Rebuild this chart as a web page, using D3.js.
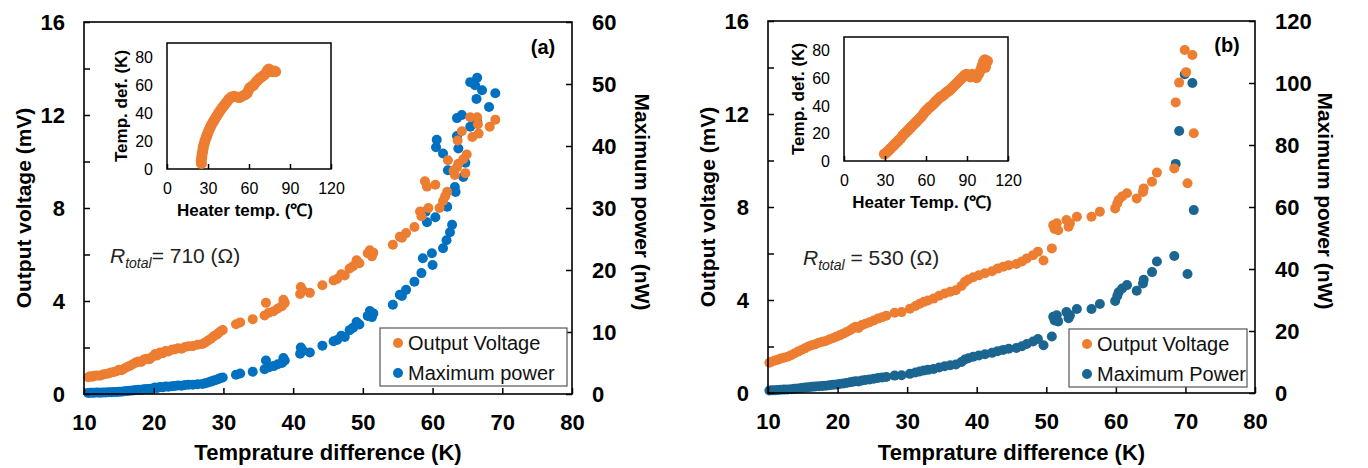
<!DOCTYPE html>
<html>
<head>
<meta charset="utf-8">
<script src="https://cdn.jsdelivr.net/npm/d3@7"></script>
<style>
  body { margin: 0; background: #fff; }
  svg { font-family: Arial, "Liberation Sans", sans-serif; }
</style>
</head>
<body>
<svg id="chart" width="1368" height="468"></svg>
<script>
const svg = d3.select("#chart"),
    width = +svg.attr("width"),
    height = +svg.attr("height");

const orange = "#ED7D31";
const blueA = "#0070C0";
const blueB = "#1B6591";

// tick labels
const xTicks = [10, 20, 30, 40, 50, 60, 70, 80];
const voltTicks = [0, 2, 4, 6, 8, 10, 12, 14, 16];
const powerTicksA = [0, 10, 20, 30, 40, 50, 60];
const powerTicksB = [0, 20, 40, 60, 80, 100, 120];
const insetXTicks = [0, 30, 60, 90, 120];
const insetYTicks = [0, 20, 40, 60, 80];

// panel (a): [temperature difference K, output voltage mV]
const voltA = [[10.6,0.72],[10.9,0.76],[11.2,0.74],[11.5,0.78],[11.9,0.80],[12.3,0.79],[12.7,0.84],[13.1,0.86],[13.5,0.88],[13.9,0.93],[14.3,0.95],[14.7,0.98],[15.0,1.04],[15.4,1.02],[15.8,1.10],[16.2,1.16],[16.6,1.22],[17.0,1.28],[17.4,1.35],[17.8,1.40],[18.2,1.38],[18.6,1.48],[19.0,1.52],[19.4,1.50],[19.8,1.60],[20.2,1.72],[20.5,1.66],[20.9,1.78],[21.3,1.75],[21.7,1.85],[22.1,1.83],[22.6,1.90],[23.0,1.92],[23.5,1.97],[24.0,1.95],[24.5,2.02],[25.0,2.05],[25.6,2.06],[26.3,2.12],[27.0,2.15],[27.4,2.22],[27.8,2.30],[28.2,2.38],[28.6,2.48],[29.0,2.55],[29.3,2.62],[29.6,2.70],[29.9,2.75],
  [31.8,3.00],[32.4,3.08],[34.2,3.22],[35.9,3.38],[36.1,3.92],[36.5,3.50],[37.2,3.56],[37.8,3.68],[38.4,3.78],[38.6,4.05],[38.8,3.92],[41.0,4.30],[41.1,4.60],[41.4,4.45],[42.4,4.35],[44.2,4.68],[45.8,4.88],[46.3,4.95],[46.9,5.15],[47.4,5.10],[48.1,5.40],[48.6,5.50],[49.1,5.75],[49.5,5.62],[50.7,6.05],[51.0,6.18],[51.3,5.92],[51.5,6.08],[54.3,6.42],[55.3,6.76],[55.6,6.72],[56.2,6.92],[57.4,7.18],[58.2,7.85],[58.4,7.65],[58.9,9.15],[59.2,8.92],[59.4,8.00],[60.4,9.00],[61.0,8.00],[61.5,8.30],[61.8,8.50],[62.1,8.70],[62.2,10.05],[63.0,9.60],[63.2,9.42],[63.5,9.75],[63.6,10.90],[63.7,9.90],[64.2,11.30],[64.4,10.10],[64.7,9.50],[64.9,10.30],[65.4,11.90],[65.7,11.05],[66.4,11.90],[66.5,11.60],[66.6,11.20],[68.2,11.50],[69.0,11.80]];

// panel (a): [temperature difference K, maximum power nW]
const powerA = [[10.6,0.18],[10.9,0.20],[11.2,0.19],[11.5,0.21],[11.9,0.23],[12.3,0.22],[12.7,0.25],[13.1,0.26],[13.5,0.27],[13.9,0.30],[14.3,0.32],[14.7,0.34],[15.0,0.38],[15.4,0.37],[15.8,0.43],[16.2,0.47],[16.6,0.52],[17.0,0.58],[17.4,0.64],[17.8,0.69],[18.2,0.67],[18.6,0.77],[19.0,0.81],[19.4,0.79],[19.8,0.90],[20.2,1.04],[20.5,0.97],[20.9,1.12],[21.3,1.08],[21.7,1.20],[22.1,1.18],[22.6,1.27],[23.0,1.30],[23.5,1.37],[24.0,1.34],[24.5,1.44],[25.0,1.48],[25.6,1.49],[26.3,1.58],[27.0,1.63],[27.4,1.73],[27.8,1.86],[28.2,2.00],[28.6,2.16],[29.0,2.29],[29.3,2.42],[29.6,2.57],[29.9,2.66],
  [31.8,3.1],[32.4,3.3],[34.2,3.6],[35.9,4.0],[36.1,5.4],[36.5,4.3],[37.2,4.5],[37.8,4.8],[38.4,5.0],[38.6,5.8],[38.8,5.4],[41.0,6.5],[41.1,7.5],[41.4,7.0],[42.4,6.7],[44.2,7.8],[45.8,8.5],[46.3,8.7],[46.9,9.4],[47.4,9.2],[48.1,10.3],[48.6,10.7],[49.1,11.6],[49.5,11.2],[50.7,12.6],[51.0,13.4],[51.3,12.4],[51.5,13.0],[54.3,14.4],[55.3,16.0],[55.6,15.8],[56.2,16.8],[57.4,18.1],[58.4,19.5],[58.6,21.9],[59.0,29.4],[59.2,27.7],[59.9,22.7],[60.0,20.8],[60.4,28.5],[60.5,39.8],[60.6,41.0],[61.5,23.5],[61.5,38.8],[62.0,24.8],[62.1,30.2],[62.2,36.1],[62.5,26.1],[62.8,27.3],[63.2,33.4],[63.3,32.6],[63.5,41.6],[63.5,44.5],[63.7,39.6],[64.2,45.0],[64.4,35.0],[64.7,37.3],[65.4,43.1],[65.4,50.3],[66.1,49.8],[66.3,47.6],[66.4,51.0],[66.4,44.0],[67.1,49.0],[68.1,46.3],[69.0,48.5]];

// panel (b)
const voltB = [[10.2,1.30],[10.6,1.36],[11.0,1.40],[11.4,1.43],[11.8,1.48],[12.3,1.52],[12.8,1.56],[13.3,1.62],[13.8,1.70],[14.3,1.78],[14.8,1.85],[15.3,1.92],[15.8,2.00],[16.3,2.05],[16.8,2.10],[17.3,2.16],[17.8,2.20],[18.3,2.24],[18.8,2.30],[19.3,2.36],[19.8,2.42],[20.3,2.48],[20.8,2.55],[21.3,2.62],[21.8,2.70],[22.2,2.78],[22.6,2.85],[23.0,2.80],[23.5,2.92],[24.0,2.98],[24.6,3.04],[25.2,3.12],[25.8,3.20],[26.4,3.26],[27.0,3.32],[28.2,3.45],[29.2,3.48],[30.4,3.62],[31.2,3.74],[31.8,3.84],[32.4,3.92],[33.0,3.98],[33.8,4.06],[34.6,4.18],[35.4,4.28],[36.2,4.36],[37.0,4.42],[37.8,4.60],[38.3,4.78],[38.8,4.88],[39.5,4.98],[40.3,5.06],[41.2,5.15],[42.2,5.24],[43.0,5.35],[43.8,5.43],[44.6,5.50],[45.7,5.55],[46.5,5.66],[47.2,5.79],[48.1,5.93],[48.8,6.08],[49.6,5.70],[50.8,6.22],[51.0,7.22],[51.2,7.05],[51.5,7.30],[51.7,7.00],[52.9,7.44],[53.2,7.15],[53.4,7.30],[54.4,7.58],[56.5,7.58],[57.7,7.80],[59.9,7.94],[60.2,8.15],[60.4,8.30],[60.9,8.45],[61.6,8.59],[63.0,8.37],[63.9,8.65],[64.0,8.80],[65.2,9.09],[65.9,9.48],[68.4,9.66],[70.3,9.02],[68.6,12.50],[69.1,13.35],[69.9,14.75],[70.1,13.80],[71.0,14.54],[71.2,11.17]];

const powerB = [[10.2,0.80],[10.6,0.87],[11.0,0.92],[11.4,0.97],[11.8,1.03],[12.3,1.09],[12.8,1.15],[13.3,1.24],[13.8,1.36],[14.3,1.49],[14.8,1.62],[15.3,1.74],[15.8,1.89],[16.3,1.98],[16.8,2.08],[17.3,2.20],[17.8,2.28],[18.3,2.37],[18.8,2.50],[19.3,2.63],[19.8,2.76],[20.3,2.90],[20.8,3.07],[21.3,3.24],[21.8,3.44],[22.2,3.65],[22.6,3.83],[23.0,3.70],[23.5,4.02],[24.0,4.19],[24.6,4.36],[25.2,4.59],[25.8,4.83],[26.4,5.01],[27.0,5.20],[28.2,5.61],[29.2,5.71],[30.4,6.18],[31.2,6.60],[31.8,6.95],[32.4,7.25],[33.0,7.47],[33.8,7.78],[34.6,8.24],[35.4,8.64],[36.2,8.97],[37.0,9.21],[37.8,9.98],[38.3,10.78],[38.8,11.23],[39.5,11.70],[40.3,12.08],[41.2,12.50],[42.2,12.95],[43.0,13.50],[43.8,13.90],[44.6,14.30],[45.7,14.50],[46.5,15.10],[47.2,15.80],[48.1,16.60],[48.8,17.40],[49.6,15.40],[50.8,18.20],[51.0,24.60],[51.2,23.40],[51.5,25.10],[51.7,23.10],[52.9,26.10],[53.2,24.10],[53.4,25.10],[54.4,27.10],[56.5,27.10],[57.7,28.70],[59.9,29.70],[60.2,31.30],[60.4,32.50],[60.9,33.70],[61.6,34.80],[63.0,33.00],[63.9,35.30],[64.0,36.50],[65.2,39.00],[65.9,42.40],[68.4,44.20],[70.3,38.40],[68.6,73.90],[69.1,84.50],[69.9,102.80],[71.0,100.00],[71.2,59.00]];

// insets: [heater temp C, temperature difference K]
const insetA = [[25.2,4],[25.0,6],[25.4,8],[25.6,10],[26.0,12],[26.3,14],[26.6,16],[27.2,18],[27.8,20],[28.5,22],[29.2,24],[30.0,26],[30.8,28],[31.8,30],[32.8,32],[34.0,34],[35.2,36],[36.5,38],[37.8,40],[39.2,42],[40.6,44],[42.2,46],[43.8,48],[45.4,50],[47.2,51.5],[49.0,52],[51.0,51.5],[53.0,51],[55.0,52],[57.0,53],[58.5,54],[59.5,56],[60.5,58],[62.0,59],[63.5,60],[65.0,62],[66.5,63.5],[68.0,65],[69.5,66],[71.0,67],[72.5,68.5],[73.5,70.5],[74.5,71.5],[75.5,70.5],[77.0,69.5],[78.5,70],[79.5,69.5]];
const insetB = [[29.5,5],[31,6],[32.5,7.5],[34,9],[35.5,10.5],[37,12],[38.5,13.5],[40,15],[41.5,16.5],[43,18.5],[44.5,20],[46,21.5],[47.5,23],[49,24.5],[50.5,26],[52,27.5],[53.5,29],[55,30.5],[56.5,32],[58,34],[59.5,36],[61,37.5],[62.5,39],[64,40],[65.5,41.5],[67,43],[68.5,44.5],[70,46],[71.5,47],[73,48],[74.5,49.5],[76,50.5],[77.5,51.5],[79,53],[80.5,54.5],[82,56],[83.5,57.5],[85,59],[86.5,60.5],[88,62],[89.5,63],[91,62.5],[92.5,61],[94,63],[95.5,62],[97,60.5],[98.5,63],[100,66],[101,69],[102,72],[103,73.5],[104,71],[105,72.5],[103.5,68]];

svg.append("rect").attr("width", width).attr("height", height).attr("fill", "#fff");

const panels = [
  {x0: 84, x1: 572, y0: 22, y1: 394, volt: voltA, power: powerA, pTicks: powerTicksA, blue: blueA,
   label: "(a)", lx: 543, ly: 54, r: "710", rx: 110, ry: 263, rsep: "= ",
   legend: ["Output Voltage", "Maximum power"], lgx: 380, lgy: 328, lgw: 187,
   inset: insetA, ix0: 167, ix1: 331, iy0: 43, iy1: 169, ixTitle: "Heater temp. (℃)"},
  {x0: 768, x1: 1255, y0: 21, y1: 393, volt: voltB, power: powerB, pTicks: powerTicksB, blue: blueB,
   label: "(b)", lx: 1227, ly: 52, r: "530", rx: 803, ry: 265, rsep: " = ",
   legend: ["Output Voltage", "Maximum Power"], lgx: 1069, lgy: 329, lgw: 178,
   inset: insetB, ix0: 844, ix1: 1008, iy0: 37, iy1: 161, ixTitle: "Heater Temp. (℃)"}
];

panels.forEach(draw_panel);

function draw_panel(p) {
    const g = svg.append("g");
    const x = d3.scaleLinear().domain([10, 80]).range([p.x0, p.x1]);
    const yV = d3.scaleLinear().domain([0, 16]).range([p.y1, p.y0]);
    const pMax = p.pTicks[p.pTicks.length - 1];
    const yP = d3.scaleLinear().domain([0, pMax]).range([p.y1, p.y0]);

    // points first, frame on top
    g.append("g").selectAll("circle")
        .data(p.power).enter().append("circle")
        .attr("cx", d => x(d[0])).attr("cy", d => yP(d[1]))
        .attr("r", 5).attr("fill", p.blue);
    g.append("g").selectAll("circle")
        .data(p.volt).enter().append("circle")
        .attr("cx", d => x(d[0])).attr("cy", d => yV(d[1]))
        .attr("r", 5).attr("fill", orange);

    const xAxis = g.append("g")
        .attr("transform", "translate(0," + p.y1 + ")")
        .call(d3.axisBottom(x).tickValues(xTicks).tickSize(-6).tickPadding(20));
    const lAxis = g.append("g")
        .attr("transform", "translate(" + p.x0 + ",0)")
        .call(d3.axisLeft(yV).tickValues(voltTicks).tickSize(-6).tickPadding(19)
            .tickFormat(d => d % 4 === 0 ? d : ""));
    const rAxis = g.append("g")
        .attr("transform", "translate(" + p.x1 + ",0)")
        .call(d3.axisRight(yP).tickValues(p.pTicks).tickSize(-6).tickPadding(20));

    [xAxis, lAxis, rAxis].forEach(a => {
        a.select(".domain").remove();
        a.selectAll("line").attr("stroke", "#000").attr("stroke-width", 1.5);
        a.selectAll("text").attr("fill", "#000")
            .style("font-size", "22px").style("font-weight", "bold");
    });

    g.append("rect")
        .attr("x", p.x0).attr("y", p.y0)
        .attr("width", p.x1 - p.x0).attr("height", p.y1 - p.y0)
        .attr("fill", "none").attr("stroke", "#000").attr("stroke-width", 1.6);

    // axis titles
    g.append("text")
        .attr("x", (p.x0 + p.x1) / 2).attr("y", 460)
        .attr("text-anchor", "middle")
        .style("font-size", "22px").style("font-weight", "bold")
        .text("Temprature difference (K)");
    g.append("text")
        .attr("transform", "translate(" + (p.x0 - 53) + "," + ((p.y0 + p.y1) / 2) + ") rotate(-90)")
        .attr("text-anchor", "middle")
        .style("font-size", "21px").style("font-weight", "bold")
        .text("Output voltage (mV)");
    g.append("text")
        .attr("transform", "translate(" + (p.x1 + 63) + "," + ((p.y0 + p.y1) / 2 - 6) + ") rotate(90)")
        .attr("text-anchor", "middle")
        .style("font-size", "21px").style("font-weight", "bold")
        .text("Maximum power (nW)");

    g.append("text")
        .attr("x", p.lx).attr("y", p.ly)
        .attr("text-anchor", "middle")
        .style("font-size", "20px").style("font-weight", "bold")
        .text(p.label);

    // R total
    const rt = g.append("text")
        .attr("x", p.rx).attr("y", p.ry)
        .style("font-size", "21px").attr("fill", "#222");
    rt.append("tspan").style("font-style", "italic").text("R");
    rt.append("tspan").style("font-style", "italic").style("font-size", "14px")
        .attr("dy", 5).text("total");
    rt.append("tspan").attr("dy", -5).text(p.rsep + p.r + " (Ω)");

    // legend
    const lg = g.append("g").attr("transform", "translate(" + p.lgx + "," + p.lgy + ")");
    lg.append("rect").attr("width", p.lgw).attr("height", 58)
        .attr("fill", "#fff").attr("stroke", "#555").attr("stroke-width", 1.2);
    const rows = [[p.legend[0], orange], [p.legend[1], p.blue]];
    rows.forEach((row, i) => {
        lg.append("circle").attr("cx", 18).attr("cy", 15 + i * 30).attr("r", 5).attr("fill", row[1]);
        lg.append("text").attr("x", 28).attr("y", 15 + i * 30).attr("dy", "0.36em")
            .style("font-size", "20px").attr("fill", "#111").text(row[0]);
    });

    // inset
    const ix = d3.scaleLinear().domain([0, 120]).range([p.ix0, p.ix1]);
    const iy = d3.scaleLinear().domain([0, 90]).range([p.iy1, p.iy0]);
    g.append("rect")
        .attr("x", p.ix0).attr("y", p.iy0)
        .attr("width", p.ix1 - p.ix0).attr("height", p.iy1 - p.iy0)
        .attr("fill", "#fff").attr("stroke", "#000").attr("stroke-width", 1.5);
    g.append("g").selectAll("circle")
        .data(p.inset).enter().append("circle")
        .attr("cx", d => ix(d[0])).attr("cy", d => iy(d[1]))
        .attr("r", 5.5).attr("fill", orange);
    const ixAxis = g.append("g")
        .attr("transform", "translate(0," + p.iy1 + ")")
        .call(d3.axisBottom(ix).tickValues(insetXTicks).tickSize(-5).tickPadding(14));
    const iyAxis = g.append("g")
        .attr("transform", "translate(" + p.ix0 + ",0)")
        .call(d3.axisLeft(iy).tickValues(insetYTicks).tickSize(0).tickPadding(14));
    [ixAxis, iyAxis].forEach(a => {
        a.select(".domain").remove();
        a.selectAll("line").attr("stroke", "#000").attr("stroke-width", 1.5);
        a.selectAll("text").attr("fill", "#000").style("font-size", "16px");
    });
    g.append("text")
        .attr("x", (p.ix0 + p.ix1) / 2 - 4).attr("y", p.iy1 + 47)
        .attr("text-anchor", "middle")
        .style("font-size", "17px").style("font-weight", "bold")
        .text(p.ixTitle);
    g.append("text")
        .attr("transform", "translate(" + (p.ix0 - 40) + "," + ((p.iy0 + p.iy1) / 2) + ") rotate(-90)")
        .attr("text-anchor", "middle")
        .style("font-size", "17px").style("font-weight", "bold")
        .text("Temp. def. (K)");
}
</script>
</body>
</html>
